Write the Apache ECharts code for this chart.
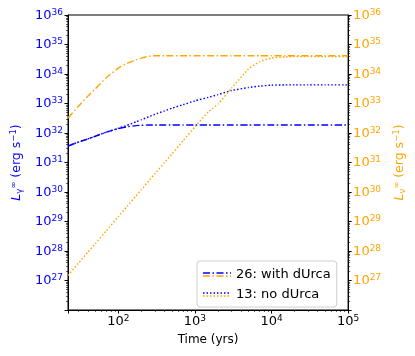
<!DOCTYPE html>
<html>
<head>
<meta charset="utf-8">
<script src="https://cdn.jsdelivr.net/npm/echarts@6/dist/echarts.min.js"></script>
<style>html,body{margin:0;padding:0;background:#fff}#c{width:415px;height:356px}</style>
</head>
<body>
<div id="c"></div>
<script>
// Time (years)
const times = [22,30,40,50,70,100,130,170,200,250,300,400,500,700,1000,1500,2000,3000,5000,7000,10000,15000,20000,30000,50000,100000];
// 26: with dUrca — photon luminosity (blue dash-dot)
const lgWithDUrca = [3.63e31,4.90e31,6.31e31,7.76e31,1.07e32,1.41e32,1.62e32,1.78e32,1.82e32,1.86e32,1.86e32,1.86e32,1.86e32,1.86e32,1.86e32,1.86e32,1.86e32,1.86e32,1.86e32,1.86e32,1.86e32,1.86e32,1.86e32,1.86e32,1.86e32,1.86e32];
// 13: no dUrca — photon luminosity (blue dotted)
const lgNoDUrca = [3.63e31,4.90e31,6.31e31,7.76e31,1.07e32,1.45e32,1.82e32,2.40e32,2.82e32,3.55e32,4.27e32,5.62e32,6.92e32,9.12e32,1.23e33,1.62e33,2.00e33,2.75e33,3.47e33,3.89e33,4.17e33,4.27e33,4.27e33,4.27e33,4.27e33,4.27e33];
// 26: with dUrca — neutrino luminosity (orange dash-dot)
const lnWithDUrca = [3.24e32,7.94e32,1.78e33,3.16e33,7.59e33,1.58e34,2.29e34,3.02e34,3.47e34,3.98e34,4.17e34,4.17e34,4.17e34,4.17e34,4.17e34,4.17e34,4.17e34,4.17e34,4.17e34,4.17e34,4.17e34,4.17e34,4.17e34,4.17e34,4.17e34,4.17e34];
// 13: no dUrca — neutrino luminosity (orange dotted)
const lnNoDUrca = [1.48e27,3.80e27,9.12e27,1.78e28,4.90e28,1.48e29,3.24e29,7.41e29,1.20e30,2.40e30,4.17e30,1.00e31,1.95e31,5.50e31,1.62e32,5.25e32,9.55e32,3.31e33,1.48e34,2.63e34,3.47e34,3.80e34,3.89e34,3.89e34,3.89e34,3.89e34];
const seriesNames = ['26: with dUrca', '13: no dUrca'];

const BLUE = '#0000ff', ORANGE = '#ffa500';
const FONT = 'DejaVu Sans';
const pairs = v => times.map((t, i) => [t, v[i]]);
const dashDot = [7, 2.5, 1.5, 2.5];
const dotted = [1.5, 2];

function iconFor(dash) {
  const d = dash.join(',');
  const svg = "<svg xmlns='http://www.w3.org/2000/svg' width='28' height='8'>" +
    "<line x1='0' y1='2.5' x2='28' y2='2.5' stroke='" + BLUE + "' stroke-width='1.5' stroke-dasharray='" + d + "'/>" +
    "<line x1='0' y1='5.5' x2='28' y2='5.5' stroke='" + ORANGE + "' stroke-width='1.5' stroke-dasharray='" + d + "'/></svg>";
  return 'image://data:image/svg+xml;charset=utf-8,' + encodeURIComponent(svg);
}

function powLabel(v) {
  const e = Math.round(Math.log10(v));
  if (Math.abs(Math.log10(v) - e) > 1e-6) return '';
  return '{b|10}{sup|' + e + '}';
}
function yLabel(v) {
  const e = Math.round(Math.log10(v));
  if (e <= 26) return '';
  return '{b|10}{sup|' + e + '}';
}
const richFor = color => ({
  b: {fontFamily: FONT, fontSize: 13, color: color, verticalAlign: 'bottom', lineHeight: 14},
  sup: {fontFamily: FONT, fontSize: 9, color: color, verticalAlign: 'top', lineHeight: 10, padding: [0, 0, 6, 0]}
});
const nameRich = color => ({
  i: {fontFamily: FONT, fontSize: 12.5, fontStyle: 'italic', color: color},
  sub: {fontFamily: FONT, fontSize: 8.5, color: color, verticalAlign: 'bottom', padding: [6, 0, 0, 0]},
  sup: {fontFamily: FONT, fontSize: 8.5, color: color, verticalAlign: 'top', padding: [0, 0, 6, 0]},
  t: {fontFamily: FONT, fontSize: 12.5, color: color}
});
const minor = {show: true, splitNumber: 9, length: 2, lineStyle: {color: '#000', width: 0.6}};

const chart = echarts.init(document.getElementById('c'), null, {renderer: 'canvas'});
chart.setOption({
  animation: false,
  backgroundColor: '#fff',
  grid: {left: 68, right: 66, top: 15, bottom: 46, show: true, borderColor: '#000', borderWidth: 1, backgroundColor: 'transparent'},
  legend: {
    orient: 'vertical', left: 197, top: 261,
    data: [{name: seriesNames[0], icon: iconFor(dashDot)}, {name: seriesNames[1], icon: iconFor(dotted)}],
    itemWidth: 28, itemHeight: 8, itemGap: 5, itemTextGap: 10,
    padding: [6, 6, 5, 6],
    backgroundColor: '#fff', borderColor: '#d0d0d0', borderWidth: 1, borderRadius: 3,
    textStyle: {fontFamily: FONT, fontSize: 13, color: '#000', lineHeight: 15}
  },
  xAxis: {
    type: 'log', logBase: 10, min: 22, max: 100000,
    name: 'Time (yrs)', nameLocation: 'middle', nameGap: 22,
    nameTextStyle: {fontFamily: FONT, fontSize: 12, color: '#000'},
    axisLine: {show: true, lineStyle: {color: '#000', width: 1}},
    axisTick: {show: true, inside: false, length: 3.5, lineStyle: {color: '#000'}},
    minorTick: minor,
    axisLabel: {formatter: powLabel, margin: 4, rich: richFor('#000')},
    splitLine: {show: false}
  },
  yAxis: [{
    type: 'log', logBase: 10, min: 1e26, max: 1e36, interval: 1,
    position: 'left',
    name: '{i|L}{sub|γ}{sup|∞}{t| (erg s}{sup|−1}{t|)}', nameLocation: 'middle', nameGap: 44, nameRotate: 90,
    nameTextStyle: {rich: nameRich(BLUE), color: BLUE},
    axisLine: {show: true, lineStyle: {color: '#000', width: 1}},
    axisTick: {show: true, inside: false, length: 3.5, lineStyle: {color: '#000'}},
    minorTick: minor,
    axisLabel: {formatter: yLabel, margin: 5, rich: richFor(BLUE)},
    splitLine: {show: false}
  }, {
    type: 'log', logBase: 10, min: 1e26, max: 1e36, interval: 1,
    position: 'right',
    name: '{i|L}{sub|ν}{sup|∞}{t| (erg s}{sup|−1}{t|)}', nameLocation: 'middle', nameGap: 39, nameRotate: 90,
    nameTextStyle: {rich: nameRich(ORANGE), color: ORANGE},
    axisLine: {show: true, lineStyle: {color: '#000', width: 1}},
    axisTick: {show: true, inside: false, length: 3.5, lineStyle: {color: '#000'}},
    minorTick: minor,
    axisLabel: {formatter: yLabel, margin: 5, rich: richFor(ORANGE)},
    splitLine: {show: false}
  }],
  series: [
    {name: seriesNames[0], type: 'line', yAxisIndex: 0, data: pairs(lgWithDUrca), showSymbol: false, smooth: 0.15,
     lineStyle: {color: BLUE, width: 1.4, type: dashDot}, itemStyle: {color: BLUE}},
    {name: seriesNames[1], type: 'line', yAxisIndex: 0, data: pairs(lgNoDUrca), showSymbol: false, smooth: 0.15,
     lineStyle: {color: BLUE, width: 1.4, type: dotted}, itemStyle: {color: BLUE}},
    {name: seriesNames[0] + ' ν', type: 'line', yAxisIndex: 1, data: pairs(lnWithDUrca), showSymbol: false, smooth: 0.15,
     lineStyle: {color: ORANGE, width: 1.4, type: dashDot}, itemStyle: {color: ORANGE}},
    {name: seriesNames[1] + ' ν', type: 'line', yAxisIndex: 1, data: pairs(lnNoDUrca), showSymbol: false, smooth: 0.15,
     lineStyle: {color: ORANGE, width: 1.4, type: dotted}, itemStyle: {color: ORANGE}}
  ]
});
</script>
</body>
</html>
